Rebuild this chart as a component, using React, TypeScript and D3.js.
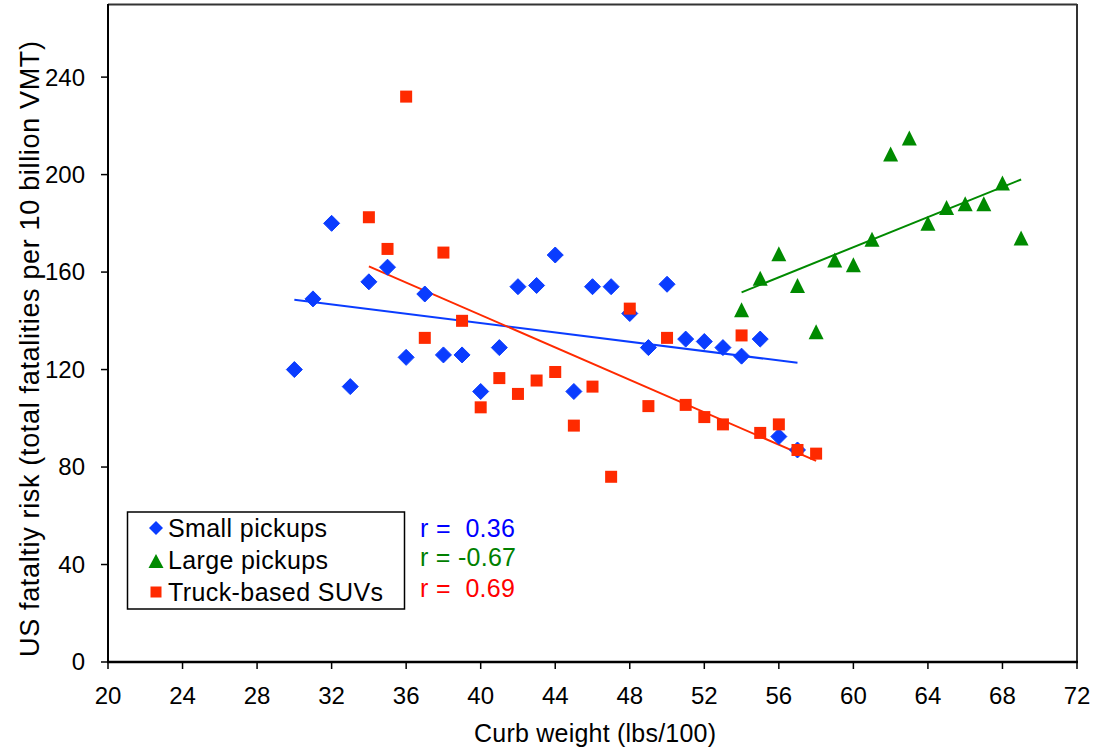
import React from "react";
import * as d3 from "d3";

// ---- data ----
const smallX = [30, 31, 32, 33, 34, 35, 36, 37, 38, 39, 40, 41, 42, 43, 44, 45, 46, 47, 48, 49, 50, 51, 52, 53, 54, 55, 56, 57];
const smallY = [120, 149, 180, 113, 156, 162, 125, 151, 126, 126, 111, 129, 154, 154.5, 167, 111, 154, 154, 143, 129, 155, 132.5, 131.5, 129, 125.5, 132.5, 92.5, 87];

const largeX = [54, 55, 56, 57, 58, 59, 60, 61, 62, 63, 64, 65, 66, 67, 68, 69];
const largeY = [144.5, 157.5, 167.5, 154.5, 135.5, 165, 163, 173.5, 208.5, 215, 180, 186.5, 188, 188, 196.5, 174];

const suvX = [34, 35, 36, 37, 38, 39, 40, 41, 42, 43, 44, 45, 46, 47, 48, 49, 50, 51, 52, 53, 54, 55, 56, 57, 58];
const suvY = [182.5, 169.5, 232, 133, 168, 140, 104.5, 116.5, 110, 115.5, 119, 97, 113, 76, 145, 105, 133, 105.5, 100.5, 97.5, 134, 94, 97.5, 87, 85.5];

const xTicks = [20, 24, 28, 32, 36, 40, 44, 48, 52, 56, 60, 64, 68, 72];
const yTicks = [0, 40, 80, 120, 160, 200, 240];

const legendLabels = ["Small pickups", "Large pickups", "Truck-based SUVs"];
const rLabels = ["r =  0.36", "r = -0.67", "r =  0.69"];

const xTitle = "Curb weight (lbs/100)";
const yTitle = "US fataltiy risk (total fatalities per 10 billion VMT)";

// ---- style ----
const W = 1096, H = 751;
const L = 108, R = 1077, T = 4, B = 662;
const FONT = "'Liberation Sans', Arial, Helvetica, sans-serif";
const FS = 24;
const FS2 = 25;
const BLUE = "#0a3cff", GREEN = "#008a00", RED = "#ff2a00";
const RCOL = ["#0000ff", "#008000", "#ff0000"];
const legendLen = [159, 160, 215];
const rLen = [95, 96, 95];

function fit(xs: number[], ys: number[]) {
  const mx = d3.mean(xs)!, my = d3.mean(ys)!;
  let sxy = 0, sxx = 0;
  xs.forEach((x, i) => { sxy += (x - mx) * (ys[i] - my); sxx += (x - mx) * (x - mx); });
  const b = sxy / sxx, a = my - b * mx;
  const x0 = d3.min(xs)!, x1 = d3.max(xs)!;
  return [[x0, a + b * x0], [x1, a + b * x1]] as [number, number][];
}

export default function App() {
  const x = d3.scaleLinear().domain([20, 72]).range([L, R]);
  const y = d3.scaleLinear().domain([0, 270]).range([B, T]);
  const line = d3.line<[number, number]>().x(d => x(d[0])).y(d => y(d[1]));

  const diamond = (cx: number, cy: number, r = 8) => `M${cx},${cy - r}L${cx + r},${cy}L${cx},${cy + r}L${cx - r},${cy}Z`;
  const tri = (cx: number, cy: number, w = 15, h = 15) => `M${cx},${cy - h / 2}L${cx + w / 2},${cy + h / 2}L${cx - w / 2},${cy + h / 2}Z`;
  const sq = 12;

  const legendRows = [528, 560, 592];

  return (
    <svg width={W} height={H} style={{ position: "absolute", left: 0, top: 0, background: "#fff" }} fontFamily={FONT}>
      <rect x={0} y={0} width={W} height={H} fill="#fff" />
      {/* frame */}
      <line x1={L} x2={R} y1={T + 0.5} y2={T + 0.5} stroke="#333" strokeWidth={2} />
      <line x1={R} x2={R} y1={T} y2={B} stroke="#333" strokeWidth={2} />
      {/* trendlines */}
      <path d={line(fit(smallX, smallY))!} stroke={BLUE} strokeWidth={2} fill="none" />
      <path d={line(fit(largeX, largeY))!} stroke={GREEN} strokeWidth={2} fill="none" />
      <path d={line(fit(suvX, suvY))!} stroke={RED} strokeWidth={2} fill="none" />
      {/* markers */}
      {smallX.map((v, i) => <path key={"s" + i} d={diamond(x(v), y(smallY[i]))} fill={BLUE} stroke={BLUE} strokeWidth={1} strokeLinejoin="round" />)}
      {largeX.map((v, i) => <path key={"l" + i} d={tri(x(v), y(largeY[i]))} fill={GREEN} />)}
      {suvX.map((v, i) => <rect key={"r" + i} x={x(v) - sq / 2} y={y(suvY[i]) - sq / 2} width={sq} height={sq} fill={RED} />)}
      {/* axes */}
      <line x1={L} x2={L} y1={T} y2={B + 1} stroke="#000" strokeWidth={2} />
      <line x1={L - 1} x2={R + 1} y1={B} y2={B} stroke="#000" strokeWidth={2.5} />
      {xTicks.map(t => (
        <g key={"xt" + t}>
          <line x1={x(t)} x2={x(t)} y1={B} y2={B + 7} stroke="#000" strokeWidth={1.5} />
          <text x={x(t)} y={696} dy="0.35em" textAnchor="middle" fontSize={FS} fill="#000">{t}</text>
        </g>
      ))}
      {yTicks.map(t => (
        <g key={"yt" + t}>
          <line x1={L - 7} x2={L} y1={y(t)} y2={y(t)} stroke="#000" strokeWidth={1.5} />
          <text x={85} y={y(t)} dy="0.35em" textAnchor="end" fontSize={FS} fill="#000">{t}</text>
        </g>
      ))}
      <text x={595} y={733} dy="0.35em" textAnchor="middle" fontSize={FS2} fill="#000" textLength={242} lengthAdjust="spacing">{xTitle}</text>
      <text transform={`translate(30,349) rotate(-90)`} dy="0.35em" textAnchor="middle" fontSize={27} fill="#000" textLength={616} lengthAdjust="spacing">{yTitle}</text>
      {/* legend */}
      <rect x={127.5} y={512} width={277} height={97} fill="#fff" stroke="#000" strokeWidth={1.5} />
      <path d={diamond(156, legendRows[0], 7)} fill={BLUE} />
      <path d={tri(156, legendRows[1] + 1, 15, 14)} fill={GREEN} />
      <rect x={150.5} y={legendRows[2] - 5.5} width={11} height={11} fill={RED} />
      {legendLabels.map((s, i) => (
        <text key={"lg" + i} x={168} y={legendRows[i]} dy="0.35em" fontSize={FS2} fill="#000" textLength={legendLen[i]} lengthAdjust="spacing">{s}</text>
      ))}
      {rLabels.map((s, i) => (
        <text key={"rl" + i} x={420} y={[528, 557, 588][i]} dy="0.35em" fontSize={FS2} fill={RCOL[i]} style={{ whiteSpace: "pre" }} textLength={rLen[i]} lengthAdjust="spacing">{s}</text>
      ))}
    </svg>
  );
}
